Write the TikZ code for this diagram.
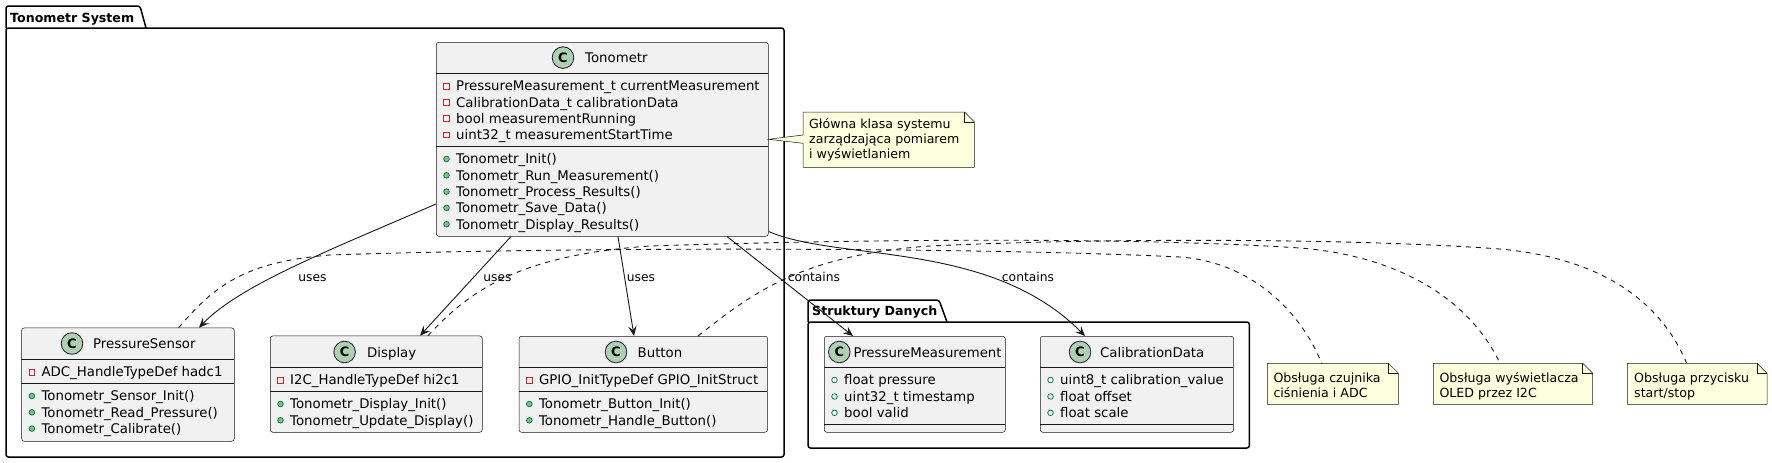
\documentclass[tikz,border=0pt]{standalone}
\usepackage{fontspec}
\setmainfont{DejaVu Sans}
\usetikzlibrary{calc,arrows.meta}
\definecolor{boxfill}{HTML}{F1F1F1}
\definecolor{umlline}{HTML}{181818}
\definecolor{notefill}{HTML}{FEFFDD}
\definecolor{circfill}{HTML}{ADD1B2}
\definecolor{privred}{HTML}{C82930}
\definecolor{pubfill}{HTML}{84BE84}
\definecolor{publine}{HTML}{038048}
\newcount\rowcnt
\newcommand\nextrow{\global\advance\rowcnt by 1\relax}
\tikzset{
  classbox/.style={draw=umlline, line width=0.5pt, fill=boxfill, rounded corners=2.5pt, inner sep=0pt, anchor=north west},
  sepline/.style={draw=umlline, line width=0.5pt},
  rowtext/.style={anchor=base west, inner sep=0pt, font=\fontsize{13.3}{16}\selectfont},
  circ/.style={circle, draw=umlline, line width=0.8pt, fill=circfill, minimum size=21.6pt, inner sep=0pt, font=\fontsize{13}{13}\selectfont\bfseries},
  privicon/.style={draw=privred, line width=0.8pt},
  pubmeth/.style={draw=publine, fill=pubfill, line width=0.8pt},
  pubfield/.style={draw=publine, line width=0.8pt},
  pkg/.style={draw=black, line width=1.5pt, rounded corners=2.5pt},
  pkglabel/.style={anchor=base west, inner sep=0pt, font=\fontsize{12.6}{15}\selectfont\bfseries},
  notebox/.style={draw=none, inner sep=0pt, anchor=north west},
  noteshape/.style={draw=umlline, line width=0.5pt, fill=notefill},
  notetext/.style={anchor=base west, inner sep=0pt, font=\fontsize{12.6}{15}\selectfont},
  assoc/.style={draw=umlline, line width=0.9pt, -{Stealth[length=10pt,width=8.5pt,inset=4pt]}},
  dashlink/.style={draw=umlline, line width=0.9pt, dash pattern=on 5pt off 5pt},
  lbl/.style={anchor=base, inner sep=0pt, font=\fontsize{12.3}{15}\selectfont},
}
\newcommand\privrow[3]{\nextrow
  \draw[privicon] (#1+7.6,#2-2.9) rectangle (#1+13.4,#2+2.9);
  \node[rowtext] (row\the\rowcnt) at (#1+20,#2+4.8) {#3};}
\newcommand\methrow[3]{\nextrow
  \draw[pubmeth] (#1+10.5,#2) circle[radius=2.8pt];
  \node[rowtext] (row\the\rowcnt) at (#1+20,#2+4.8) {#3};}
\newcommand\fieldrow[3]{\nextrow
  \draw[pubfield] (#1+10.5,#2) circle[radius=2.8pt];
  \node[rowtext] (row\the\rowcnt) at (#1+20,#2+4.8) {#3};}
\newcommand\classtitle[5]{%
  \node[circ] (#1c) at (#2,#3) {C};
  \node[rowtext] (#1t) at (#4,#3+5) {#5};}
\newcommand\sepl[3]{\draw[sepline] (#1,#3) -- (#1+#2,#3);}
\newcommand\notefold[1]{%
  \draw[noteshape] (#1.north west) -- ([xshift=-10pt]#1.north east) -- ([yshift=-10pt]#1.north east) -- (#1.south east) -- (#1.south west) -- cycle;
  \draw[sepline] ([xshift=-10pt]#1.north east) |- ([yshift=-10pt]#1.north east);}
\begin{document}
\begin{tikzpicture}[x=1pt,y=-1pt]
\useasboundingbox (0,0) rectangle (1772,463);
\fill[white] (0,0) rectangle (1772,463);

% packages
\draw[pkg] (6,28) -- (6,6) -- (140,6) -- (146,28);
\draw[pkg] (6,28) rectangle (784,457);
\node[pkglabel] (pkgA) at (10,22) {Tonometr System};
\draw[pkg] (808,322) -- (808,300) -- (939,300) -- (947,322);
\draw[pkg] (808,322) rectangle (1249.3,448);
\node[pkglabel] (pkgB) at (812,315.5) {Struktury Danych};

% Tonometr
\node[classbox, minimum width=332pt, minimum height=194pt] (T) at (436,42) {};
\sepl{436}{332}{73.3}\sepl{436}{332}{146.7}
\classtitle{T}{563}{57.6}{585}{Tonometr}
\privrow{436}{86}{PressureMeasurement\_t currentMeasurement}
\privrow{436}{102.3}{CalibrationData\_t calibrationData}
\privrow{436}{118.6}{bool measurementRunning}
\privrow{436}{134.9}{uint32\_t measurementStartTime}
\methrow{436}{159}{Tonometr\_Init()}
\methrow{436}{175.3}{Tonometr\_Run\_Measurement()}
\methrow{436}{191.6}{Tonometr\_Process\_Results()}
\methrow{436}{207.9}{Tonometr\_Save\_Data()}
\methrow{436}{224.2}{Tonometr\_Display\_Results()}

% PressureSensor
\node[classbox, minimum width=212.6pt, minimum height=113.3pt] (PS) at (21.4,327.7) {};
\sepl{21.4}{212.6}{359.3}\sepl{21.4}{212.6}{383.7}
\classtitle{PS}{72}{343.5}{93}{PressureSensor}
\privrow{21.4}{372}{ADC\_HandleTypeDef hadc1}
\methrow{21.4}{396}{Tonometr\_Sensor\_Init()}
\methrow{21.4}{412.3}{Tonometr\_Read\_Pressure()}
\methrow{21.4}{428.6}{Tonometr\_Calibrate()}

% Display
\node[classbox, minimum width=212pt, minimum height=96.3pt] (D) at (270,335.7) {};
\sepl{270}{212}{367}\sepl{270}{212}{391.7}
\classtitle{D}{344.6}{352}{367}{Display}
\privrow{270}{380}{I2C\_HandleTypeDef hi2c1}
\methrow{270}{404}{Tonometr\_Display\_Init()}
\methrow{270}{420.3}{Tonometr\_Update\_Display()}

% Button
\node[classbox, minimum width=248.5pt, minimum height=96pt] (B) at (518.8,336) {};
\sepl{518.8}{248.5}{367.3}\sepl{518.8}{248.5}{391.7}
\classtitle{B}{616}{352}{637.5}{Button}
\privrow{518.8}{380}{GPIO\_InitTypeDef GPIO\_InitStruct}
\methrow{518.8}{404}{Tonometr\_Button\_Init()}
\methrow{518.8}{420.3}{Tonometr\_Handle\_Button()}

% PressureMeasurement
\node[classbox, minimum width=181pt, minimum height=96pt] (PM) at (824,336) {};
\sepl{824}{181}{367.3}\sepl{824}{181}{424.3}
\classtitle{PM}{839.3}{352}{853.3}{PressureMeasurement}
\fieldrow{824}{380}{float pressure}
\fieldrow{824}{396.5}{uint32\_t timestamp}
\fieldrow{824}{412.8}{bool valid}

% CalibrationData
\node[classbox, minimum width=193.3pt, minimum height=96pt] (CD) at (1040,336) {};
\sepl{1040}{193.3}{367.3}\sepl{1040}{193.3}{424.3}
\classtitle{CD}{1080}{352}{1100}{CalibrationData}
\fieldrow{1040}{380}{uint8\_t calibration\_value}
\fieldrow{1040}{396.5}{float offset}
\fieldrow{1040}{412.8}{float scale}

% main note
\node[notebox, minimum width=171pt, minimum height=55pt] (G) at (803,112) {};
\draw[noteshape] (G.north west) -- ([xshift=-10pt]G.north east) -- ([yshift=-10pt]G.north east) -- (G.south east) -- (G.south west) -- ([yshift=-31.3pt]G.north west) -- ([yshift=-97.3pt]T.north east) -- ([yshift=-23pt]G.north west) -- cycle;
\draw[sepline] ([xshift=-10pt]G.north east) |- ([yshift=-10pt]G.north east);
\node[notetext] (G1) at (809,128.8) {Główna klasa systemu};
\node[notetext] (G2) at (809,143.8) {zarządzająca pomiarem};
\node[notetext] (G3) at (809,158.8) {i wyświetlaniem};

% bottom notes
\node[notebox, minimum width=130.7pt, minimum height=40.7pt] (n1) at (1267.3,363.3) {};
\notefold{n1}
\node[notetext] (n1a) at (1273.3,382.2) {Obsługa czujnika};
\node[notetext] (n1b) at (1273.3,397.2) {ciśnienia i ADC};
\node[notebox, minimum width=159pt, minimum height=40.7pt] (n2) at (1433.3,363.3) {};
\notefold{n2}
\node[notetext] (n2a) at (1439.3,382.2) {Obsługa wyświetlacza};
\node[notetext] (n2b) at (1439.3,397.2) {OLED przez I2C};
\node[notebox, minimum width=139.4pt, minimum height=40.7pt] (n3) at (1627.3,363.3) {};
\notefold{n3}
\node[notetext] (n3a) at (1634,382.2) {Obsługa przycisku};
\node[notetext] (n3b) at (1634,397.2) {start/stop};

% dashed note links
\draw[dashlink] ([xshift=157.2pt]PS.north west) .. controls (215,285) and (245,262) .. (330,255)
  .. controls (600,246) and (1000,248) .. (1180,257)
  .. controls (1250,262) and (1300,310) .. ([xshift=54.4pt]n1.north west);
\draw[dashlink] ([xshift=158pt]D.north west) .. controls (470,290) and (520,255) .. (650,246)
  .. controls (900,238) and (1150,238) .. (1300,248)
  .. controls (1400,256) and (1470,300) .. ([xshift=66.7pt]n2.north west);
\draw[dashlink] ([xshift=179.2pt]B.north west) .. controls (750,295) and (800,255) .. (930,246)
  .. controls (1100,238) and (1350,238) .. (1500,249)
  .. controls (1600,258) and (1660,300) .. ([xshift=59.4pt]n3.north west);

% associations
\draw[assoc] ([yshift=-162pt]T.north west) .. controls (330,250) and (240,285) .. ([xshift=177.6pt]PS.north west);
\draw[assoc] ([xshift=75pt]T.south west) -- ([xshift=150pt]D.north west);
\draw[assoc] ([xshift=182pt]T.south west) -- ([xshift=115.2pt]B.north west);
\draw[assoc] ([xshift=291pt]T.south west) -- ([xshift=29pt]PM.north west);
\draw[assoc] ([yshift=5pt]T.south east) .. controls (840,262) and (990,240) .. ([xshift=45pt]CD.north west);

\node[lbl] (l1) at (312.5,281) {uses};
\node[lbl] (l2) at (497.5,281) {uses};
\node[lbl] (l3) at (641,281) {uses};
\node[lbl] (l4) at (814,281) {contains};
\node[lbl] (l5) at (1028,281) {contains};
\end{tikzpicture}
\end{document}
